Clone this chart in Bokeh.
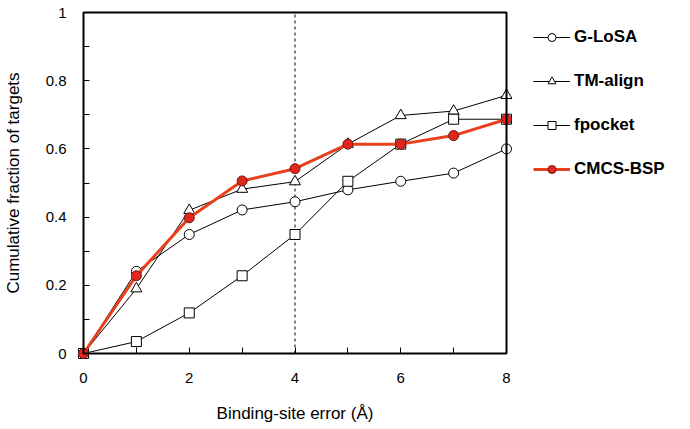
from bokeh.plotting import figure
from bokeh.models import Legend, LegendItem, FixedTicker, BoxAnnotation
from bokeh.embed import file_html
from bokeh.resources import INLINE

x = [0, 1, 2, 3, 4, 5, 6, 7, 8]
glosa = [0.0, 0.241, 0.349, 0.421, 0.445, 0.480, 0.505, 0.529, 0.600]
tmalign = [0.0, 0.190, 0.420, 0.482, 0.504, 0.614, 0.698, 0.711, 0.757]
fpocket = [0.0, 0.035, 0.119, 0.228, 0.349, 0.505, 0.614, 0.687, 0.687]
cmcs = [0.0, 0.228, 0.398, 0.506, 0.542, 0.614, 0.614, 0.639, 0.687]
x_ticks = [0, 2, 4, 6, 8]
x_minor = [1, 3, 5, 7]
y_ticks = [0, 0.2, 0.4, 0.6, 0.8, 1.0]
y_minor = [0.1, 0.3, 0.5, 0.7, 0.9]
x_lo, x_hi = 0, 8
y_lo, y_hi = 0, 1
cutoff = 4

FONT = "Liberation Sans"
PAD = 6          # px of room around the box so edge markers are not clipped
BOX_W, BOX_H = 423, 341
px_x = (x_hi - x_lo) / BOX_W
px_y = (y_hi - y_lo) / BOX_H

p = figure(frame_width=BOX_W + 2 * PAD, frame_height=BOX_H + 2 * PAD,
           output_backend="svg", toolbar_location=None,
           x_range=(x_lo - PAD * px_x, x_hi + PAD * px_x),
           y_range=(y_lo - PAD * px_y, y_hi + PAD * px_y),
           min_border_left=72, min_border_right=0, min_border_top=6, min_border_bottom=0)
p.grid.visible = False
p.outline_line_color = None
p.background_fill_color = "white"
p.border_fill_color = "white"

# the black box of the plot area, at the data limits
p.add_layout(BoxAnnotation(left=x_lo, right=x_hi, bottom=y_lo, top=y_hi,
                           fill_alpha=0, line_color="black", line_alpha=1.0,
                           line_width=2, level="overlay"))

p.xaxis.ticker = FixedTicker(ticks=x_ticks, minor_ticks=x_minor)
p.yaxis.ticker = FixedTicker(ticks=y_ticks, minor_ticks=y_minor)
p.yaxis.major_label_overrides = {0: "0", 1: "1"}
for ax in (p.xaxis[0], p.yaxis[0]):
    ax.axis_line_color = None
    ax.major_tick_in = 6 + PAD
    ax.major_tick_out = -PAD
    ax.minor_tick_in = 6 + PAD
    ax.minor_tick_out = -PAD
    ax.major_tick_line_color = "black"
    ax.minor_tick_line_color = "black"
    ax.major_label_text_font = FONT
    ax.major_label_text_font_size = "15px"
    ax.major_label_text_color = "black"
    ax.axis_label_text_font = FONT
    ax.axis_label_text_font_size = "17px"
    ax.axis_label_text_font_style = "normal"
    ax.axis_label_text_color = "black"

p.xaxis.major_label_standoff = 19
p.yaxis.major_label_standoff = 17
p.xaxis.axis_label = "Binding-site error (Å)"
p.yaxis.axis_label = "Cumulative fraction of targets"
p.xaxis.axis_label_standoff = 18
p.yaxis.axis_label_standoff = 20

# dashed cut-off line from bottom to top of the box
p.segment(x0=[cutoff], y0=[y_lo], x1=[cutoff], y1=[y_hi],
          line_color="black", line_width=1, line_dash="3 3")

items = []
series = [("G-LoSA", glosa, "circle", 10), ("TM-align", tmalign, "triangle", 11),
          ("fpocket", fpocket, "square", 10)]
for name, ys, marker, size in series:
    l = p.line(x, ys, line_color="black", line_width=1)
    s = p.scatter(x, ys, marker=marker, size=size,
                  fill_color="white", line_color="black", line_width=1)
    items.append(LegendItem(label=name, renderers=[l, s]))

l = p.line(x, cmcs, line_color="#e8401c", line_width=3)
s = p.scatter(x, cmcs, marker="circle", size=10, fill_color="#e3261b",
              line_color="#6a1a10", line_width=1)
items.append(LegendItem(label="CMCS-BSP", renderers=[l, s]))

legend = Legend(items=items, location="top_left", margin=21, padding=0,
                glyph_width=37, glyph_height=20, label_height=20, spacing=24,
                label_standoff=4, border_line_color=None, background_fill_alpha=0,
                label_text_font=FONT, label_text_font_size="17px",
                label_text_font_style="bold", label_text_color="black")
p.add_layout(legend, "right")

open("out.html", "w").write(file_html(p, INLINE))
